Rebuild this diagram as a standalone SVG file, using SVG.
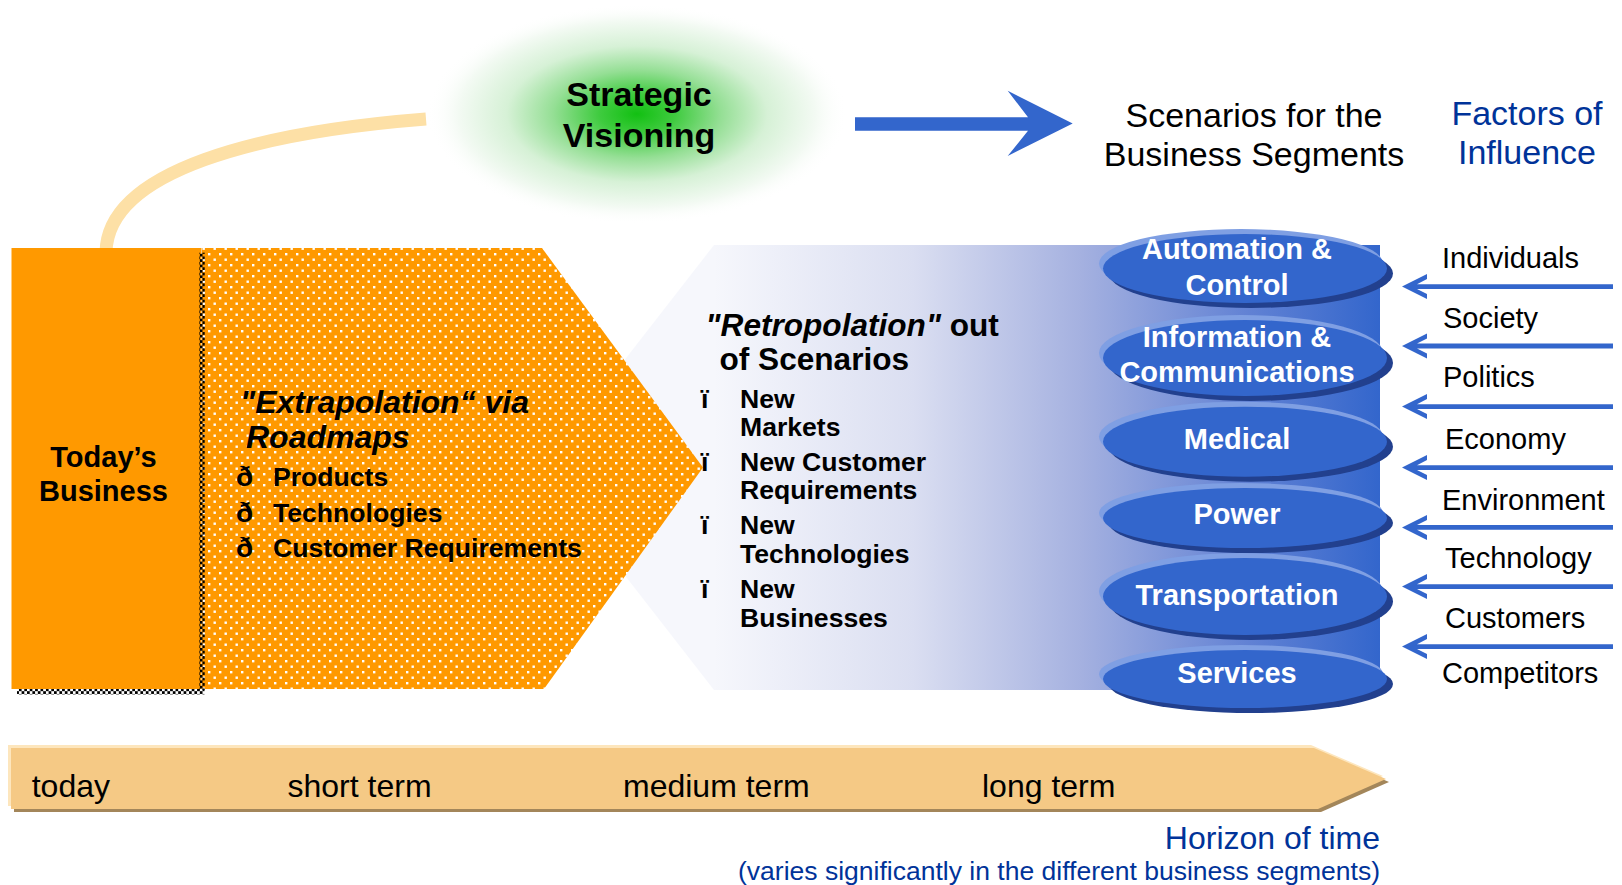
<svg xmlns="http://www.w3.org/2000/svg" width="1622" height="885" viewBox="0 0 1622 885">
  <defs>
    <radialGradient id="glow" cx="0.5" cy="0.5" r="0.5">
      <stop offset="0" stop-color="#12c012"/>
      <stop offset="0.18" stop-color="#3fcb3f"/>
      <stop offset="0.4" stop-color="#95df95"/>
      <stop offset="0.62" stop-color="#d6f1d6"/>
      <stop offset="0.85" stop-color="#f3faf3"/>
      <stop offset="1" stop-color="#ffffff" stop-opacity="0"/>
    </radialGradient>
    <linearGradient id="scenFill" gradientUnits="userSpaceOnUse" x1="714" y1="0" x2="1380" y2="0">
      <stop offset="0" stop-color="#f6f7fc"/>
      <stop offset="0.3" stop-color="#dadef1"/>
      <stop offset="0.55" stop-color="#a5b1e0"/>
      <stop offset="0.8" stop-color="#6282d4"/>
      <stop offset="1" stop-color="#3366cc"/>
    </linearGradient>
    <pattern id="dots" width="11" height="11" patternUnits="userSpaceOnUse" x="208" y="253">
      <rect width="11" height="11" fill="#ff9900"/>
      <rect x="0" y="0" width="2.4" height="2.4" fill="#ffffff"/>
      <rect x="5.5" y="5.5" width="2.4" height="2.4" fill="#ffffff"/>
    </pattern>
    <pattern id="checker" width="5.4" height="5.4" patternUnits="userSpaceOnUse">
      <rect width="2.7" height="2.7" fill="#000000"/>
      <rect x="2.7" y="2.7" width="2.7" height="2.7" fill="#000000"/>
    </pattern>
  </defs>
  <style>
    text { font-family: "Liberation Sans", Arial, sans-serif; }
    .b { font-weight: bold; }
    .bi { font-weight: bold; font-style: italic; }
    .seg { font-size: 29px; font-weight: bold; fill: #ffffff; text-anchor: middle; }
    .factor { font-size: 29px; fill: #000000; }
    .term { font-size: 32px; fill: #000000; }
    .blue { fill: #003399; }
    .rim { fill: #7f9fe3; }
    .shade { fill: #22408e; }
    .body { fill: #3366cc; }
    .inflow { fill: #3366cc; }
  </style>

  <!-- connectors: roadmap arc, vision arrow, influence arrows -->
  <g id="connectors">
    <path id="arc-vision" d="M106,252 C108,170 260,132 426,119" fill="none" stroke="#fde0a6" stroke-width="13"/>
    <polygon id="arrow-vision" class="inflow" points="855,117.3 1028,117.3 1007.7,90.7 1072.7,123.5 1007.7,156 1028,130.7 855,130.7"/>
    <g id="influence-arrows" class="inflow">
      <path d="M1402,286.6 L1427,274.1 L1427,279.1 L1417,284.2 H1613 V289 H1417 L1427,294.1 L1427,299.1 Z"/>
      <path d="M1402,346 L1427,333.5 L1427,338.5 L1417,343.6 H1613 V348.4 H1417 L1427,353.5 L1427,358.5 Z"/>
      <path d="M1402,406.6 L1427,394.1 L1427,399.1 L1417,404.2 H1613 V409 H1417 L1427,414.1 L1427,419.1 Z"/>
      <path d="M1402,467.6 L1427,455.1 L1427,460.1 L1417,465.2 H1613 V470 H1417 L1427,475.1 L1427,480.1 Z"/>
      <path d="M1402,527.4 L1427,514.9 L1427,519.9 L1417,525 H1613 V529.8 H1417 L1427,534.9 L1427,539.9 Z"/>
      <path d="M1402,586.6 L1427,574.1 L1427,579.1 L1417,584.2 H1613 V589 H1417 L1427,594.1 L1427,599.1 Z"/>
      <path d="M1402,646.6 L1427,634.1 L1427,639.1 L1417,644.2 H1613 V649 H1417 L1427,654.1 L1427,659.1 Z"/>
    </g>
  </g>

  <!-- strategic visioning glow -->
  <g id="strategic-visioning">
    <ellipse cx="637" cy="114" rx="210" ry="110" fill="url(#glow)"/>
    <text class="b" x="639" y="106" font-size="34" text-anchor="middle">Strategic</text>
    <text class="b" x="639" y="146.5" font-size="34" text-anchor="middle">Visioning</text>
  </g>

  <g id="scenarios-title">
    <text x="1254" y="126.7" font-size="34" text-anchor="middle">Scenarios for the</text>
    <text x="1254" y="165.7" font-size="34" text-anchor="middle">Business Segments</text>
  </g>

  <g id="factors-title" class="blue">
    <text x="1527" y="124.5" font-size="34" text-anchor="middle">Factors of</text>
    <text x="1527" y="164" font-size="34" text-anchor="middle">Influence</text>
  </g>

  <!-- retropolation chevron with fading fill -->
  <g id="retropolation">
    <polygon points="714,245 1380,245 1380,690 714,690 541,467.5" fill="url(#scenFill)"/>
    <text class="b" x="705.6" y="336" font-size="31.6"><tspan font-style="italic">"Retropolation"</tspan> out</text>
    <text class="b" x="719.5" y="370" font-size="31.6">of Scenarios</text>
    <g class="b" font-size="26.6">
      <text x="701" y="408">ï</text>
      <text x="740" y="408">New</text>
      <text x="740" y="436">Markets</text>
      <text x="701" y="470.5">ï</text>
      <text x="740" y="470.5">New Customer</text>
      <text x="740" y="499">Requirements</text>
      <text x="701" y="534">ï</text>
      <text x="740" y="534">New</text>
      <text x="740" y="563">Technologies</text>
      <text x="701" y="598">ï</text>
      <text x="740" y="598">New</text>
      <text x="740" y="627">Businesses</text>
    </g>
  </g>

  <!-- extrapolation block (dotted) -->
  <g id="extrapolation">
    <polygon points="202,248 542,248 703,467.5 544,689 202,689" fill="url(#dots)"/>
    <text class="bi" x="240" y="413" font-size="32">"Extrapolation“ via</text>
    <text class="bi" x="246" y="448" font-size="32">Roadmaps</text>
    <g class="b" font-size="26.6">
      <text x="236" y="486" font-size="28">ð</text>
      <text x="273" y="486">Products</text>
      <text x="236" y="521.5" font-size="28">ð</text>
      <text x="273" y="521.5">Technologies</text>
      <text x="236" y="556.5" font-size="28">ð</text>
      <text x="273" y="556.5">Customer Requirements</text>
    </g>
  </g>

  <!-- today's business block -->
  <g id="todays-business">
    <rect x="11.5" y="248" width="190" height="441" fill="#ff9900"/>
    <rect x="199.3" y="252.7" width="5.4" height="437" fill="url(#checker)"/>
    <rect x="17" y="689" width="187.5" height="5.4" fill="url(#checker)"/>
    <text class="b" x="103.5" y="466.5" font-size="29" text-anchor="middle">Today’s</text>
    <text class="b" x="103.5" y="500.5" font-size="29" text-anchor="middle">Business</text>
  </g>

  <!-- business segments -->
  <g id="seg-automation">
    <ellipse class="rim" cx="1241" cy="263.5" rx="142" ry="34.5"/>
    <ellipse class="shade" cx="1251" cy="273.5" rx="142" ry="34.5"/>
    <ellipse class="body" cx="1245" cy="268.5" rx="142" ry="34.5"/>
    <text class="seg" x="1237" y="259.3">Automation &amp;</text>
    <text class="seg" x="1237" y="295">Control</text>
  </g>
  <g id="seg-infocom">
    <ellipse class="rim" cx="1241" cy="353" rx="142" ry="38"/>
    <ellipse class="shade" cx="1251" cy="363" rx="142" ry="38"/>
    <ellipse class="body" cx="1245" cy="358" rx="142" ry="38"/>
    <text class="seg" x="1237" y="346.7">Information &amp;</text>
    <text class="seg" x="1237" y="381.7">Communications</text>
  </g>
  <g id="seg-medical">
    <ellipse class="rim" cx="1241" cy="436.7" rx="142" ry="35"/>
    <ellipse class="shade" cx="1251" cy="446.7" rx="142" ry="35"/>
    <ellipse class="body" cx="1245" cy="441.7" rx="142" ry="35"/>
    <text class="seg" x="1237" y="449.3">Medical</text>
  </g>
  <g id="seg-power">
    <ellipse class="rim" cx="1241" cy="513" rx="142" ry="30"/>
    <ellipse class="shade" cx="1251" cy="523" rx="142" ry="30"/>
    <ellipse class="body" cx="1245" cy="518" rx="142" ry="30"/>
    <text class="seg" x="1237" y="524">Power</text>
  </g>
  <g id="seg-transportation">
    <ellipse class="rim" cx="1241" cy="591.5" rx="142" ry="38.5"/>
    <ellipse class="shade" cx="1251" cy="601.5" rx="142" ry="38.5"/>
    <ellipse class="body" cx="1245" cy="596.5" rx="142" ry="38.5"/>
    <text class="seg" x="1237" y="605">Transportation</text>
  </g>
  <g id="seg-services">
    <ellipse class="rim" cx="1241" cy="674" rx="142" ry="29"/>
    <ellipse class="shade" cx="1251" cy="684" rx="142" ry="29"/>
    <ellipse class="body" cx="1245" cy="679" rx="142" ry="29"/>
    <text class="seg" x="1237" y="683.3">Services</text>
  </g>

  <!-- factors of influence -->
  <g id="factors">
    <text class="factor" x="1442" y="268.3">Individuals</text>
    <text class="factor" x="1443" y="328">Society</text>
    <text class="factor" x="1443" y="386.7">Politics</text>
    <text class="factor" x="1445" y="449" font-size="29.5">Economy</text>
    <text class="factor" x="1442" y="510">Environment</text>
    <text class="factor" x="1445" y="568" font-size="29.5">Technology</text>
    <text class="factor" x="1445" y="628" font-size="29.5">Customers</text>
    <text class="factor" x="1442" y="683">Competitors</text>
  </g>

  <!-- time horizon band -->
  <g id="timeline">
    <polygon points="14,751 1317,751 1389,782 1321,812 14,812" fill="#a3865a"/>
    <polygon points="8,745 1311,745 1383,776 1315,806 8,806" fill="#fde6bd"/>
    <polygon points="11,748 1314,748 1386,779 1318,809 11,809" fill="#f5c985"/>
    <text class="term" x="31.7" y="796.7">today</text>
    <text class="term" x="287.5" y="796.7">short term</text>
    <text class="term" x="623" y="796.7">medium term</text>
    <text class="term" x="982" y="796.7">long term</text>
  </g>

  <g id="horizon-caption" class="blue">
    <text x="1380" y="849" font-size="32" text-anchor="end">Horizon of time</text>
    <text x="1380" y="880" font-size="26" text-anchor="end" textLength="642" lengthAdjust="spacingAndGlyphs">(varies significantly in the different business segments)</text>
  </g>
</svg>
